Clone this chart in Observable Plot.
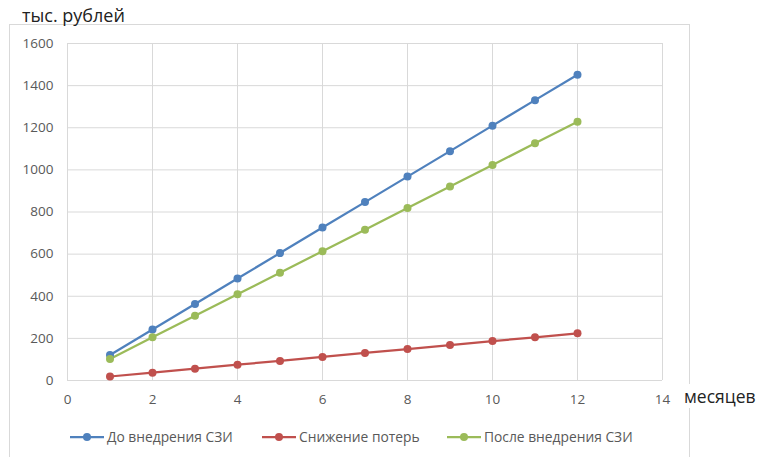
<!DOCTYPE html>
<html><head><meta charset="utf-8">
<script src="https://cdn.jsdelivr.net/npm/d3@7"></script>
<script src="https://cdn.jsdelivr.net/npm/@observablehq/plot@0.6"></script>
<style>
body{margin:0;background:#fff;font-family:"Open Sans",sans-serif;}
#wrap{position:relative;width:761px;height:457px;overflow:hidden;}
#frame{position:absolute;left:9px;top:24px;width:681px;height:440px;border:1px solid #d9d9d9;box-sizing:border-box;}
#ytitle{position:absolute;left:22px;top:3px;font-size:18px;color:#222;}
#xtitle{position:absolute;left:684px;top:384px;font-size:17.5px;color:#222;background:#fff;}
#legend{position:absolute;left:70px;top:427px;font-size:13.8px;color:#595959;display:flex;}
.li{display:flex;align-items:center;position:absolute;white-space:nowrap;}
.li svg{margin-right:3px;}
#chart{position:absolute;left:0;top:0;}
</style></head>
<body><div id="wrap">
<div id="frame"></div>
<div id="chart"></div>
<div id="ytitle">тыс. рублей</div>
<div id="xtitle">месяцев</div>
<div id="legend"></div>
</div>
<script>
const months = [1,2,3,4,5,6,7,8,9,10,11,12];
const seriesNames = ["До внедрения СЗИ","Снижение потерь","После внедрения СЗИ"];
const before = [121,242,363,484,605,726,847,968,1089,1210,1331,1452];
const reduction = [19,37,56,75,93,112,131,149,168,187,205,224];
const after = [102,205,307,409,512,614,716,819,921,1023,1126,1228];
const colors = ["#4F81BD","#C0504D","#9BBB59"];
const xTicks = [0,2,4,6,8,10,12,14];
const yTicks = [0,200,400,600,800,1000,1200,1400,1600];

const values = [before, reduction, after];
const data = [];
seriesNames.forEach((s,i)=>months.forEach((m,j)=>data.push({series:s,month:m,value:values[i][j]})));

const plot = Plot.plot({
  width:761, height:457,
  marginLeft:67, marginRight:99, marginTop:43, marginBottom:77,
  style:{fontFamily:"Open Sans, sans-serif", fontSize:"13.5px", color:"#595959", background:"transparent"},
  x:{domain:[0,14], ticks:xTicks, tickSize:0, tickPadding:14, label:null, tickFormat:d=>String(d)},
  y:{domain:[0,1600], ticks:yTicks, tickSize:0, tickPadding:14, label:null, tickFormat:d=>String(d)},
  color:{domain:seriesNames, range:colors},
  marks:[
    Plot.gridX(xTicks,{stroke:"#d9d9d9", strokeOpacity:1}),
    Plot.gridY(yTicks,{stroke:"#d9d9d9", strokeOpacity:1}),
    Plot.line(data,{x:"month",y:"value",z:"series",stroke:"series",strokeWidth:2.25}),
    Plot.dot(data,{x:"month",y:"value",fill:"series",r:4})
  ]
});
document.getElementById("chart").appendChild(plot);

const leg = document.getElementById("legend");
const lx = [0,192,377];
seriesNames.forEach((s,i)=>{
  const d = document.createElement("div");
  d.className="li"; d.style.left=lx[i]+"px";
  d.innerHTML=`<svg width="34" height="10"><line x1="0" y1="5" x2="34" y2="5" stroke="${colors[i]}" stroke-width="2.25"/><circle cx="17" cy="5" r="4" fill="${colors[i]}"/></svg><span>${s}</span>`;
  leg.appendChild(d);
});
</script>
</body></html>
